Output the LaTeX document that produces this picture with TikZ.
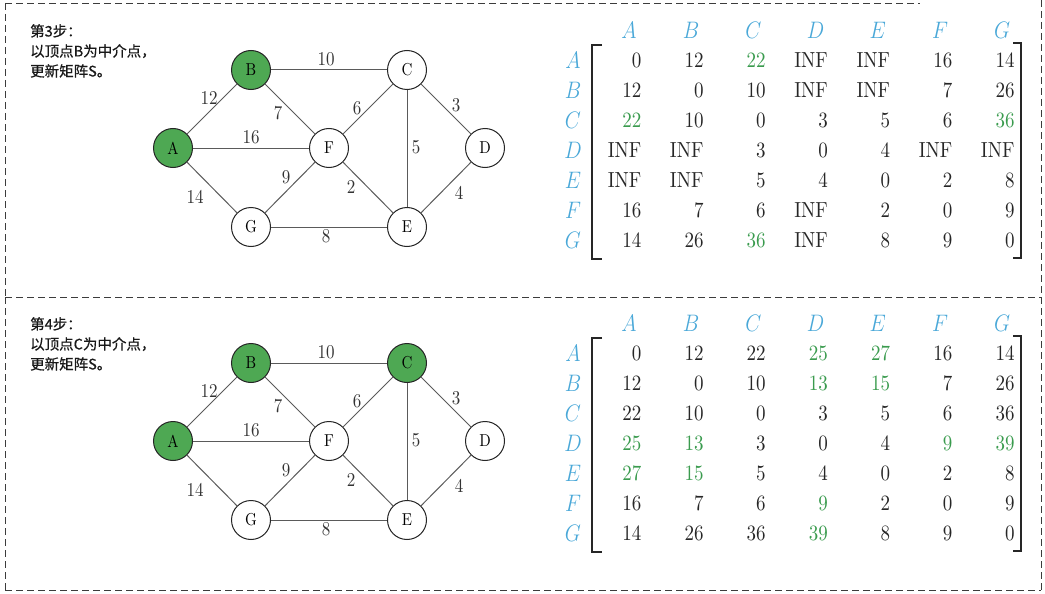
\documentclass[tikz,border=0pt]{standalone}
\usepackage{fontspec}
\usepackage{graphicx}
\newfontfamily\cjk{Noto Sans CJK SC}[FakeBold=0.6]
% the 10pt design of Latin Modern, used at large sizes for sturdier strokes
\newfontfamily\numfont{lmroman10-regular}[Extension=.otf]
\definecolor{nodegreen}{HTML}{4EA853}
\definecolor{numgreen}{HTML}{3A9B4E}
\definecolor{hdrblue}{HTML}{4AA8D8}
\definecolor{edgegray}{HTML}{5A5A5A}
\definecolor{framegray}{HTML}{3C3C3C}
% slightly tall glyphs
\newcommand\tl[1]{\scalebox{1}[1.15]{#1}}
\newcommand\gn[1]{\textcolor{numgreen}{#1}}

\tikzset{
  vtx/.style={circle, draw=black!85, line width=1pt, minimum size=39pt, inner sep=0pt,
    fill=white, font=\numfont\fontsize{15}{15}\selectfont},
  done/.style={fill=nodegreen},
  edge/.style={draw=edgegray, line width=1pt},
  wlab/.style={inner sep=0pt, font=\numfont\fontsize{17}{17}\selectfont, text=black!80},
  frame/.style={draw=framegray, line width=0.9pt, dash pattern=on 7pt off 4pt},
  entry/.style={anchor=east, inner sep=0pt, font=\numfont\fontsize{19}{19}\selectfont, text=black!85},
  hdr/.style={inner sep=0pt, text=hdrblue, font=\fontsize{20}{20}\selectfont},
  bracket/.style={draw=black!85, line width=1.4pt},
  caption/.style={anchor=north west, align=left, inner sep=0pt,
    font=\cjk\fontsize{14.5}{20}\selectfont, text=black!90}
}

% graph of one step; #1 = style of vertex C
\newcommand\drawgraph[1]{%
  \node[vtx,done] (A) at (173,148) {\tl{A}};
  \node[vtx,done] (B) at (251,70)  {\tl{B}};
  \node[vtx,#1]   (C) at (407,70)  {\tl{C}};
  \node[vtx]      (D) at (485,148) {\tl{D}};
  \node[vtx]      (E) at (407,227) {\tl{E}};
  \node[vtx]      (F) at (329,148) {\tl{F}};
  \node[vtx]      (G) at (251,227) {\tl{G}};
  \draw[edge] (A) -- (B);
  \draw[edge] (A) -- (F);
  \draw[edge] (A) -- (G);
  \draw[edge] (B) -- (C);
  \draw[edge] (B) -- (F);
  \draw[edge] (C) -- (F);
  \draw[edge] (C) -- (D);
  \draw[edge] (C) -- (E);
  \draw[edge] (F) -- (G);
  \draw[edge] (F) -- (E);
  \draw[edge] (G) -- (E);
  \draw[edge] (D) -- (E);
  \node[wlab] (wBC) at (326,59)  {\tl{10}};
  \node[wlab] (wAB) at (209,98)  {\tl{12}};
  \node[wlab] (wBF) at (278,113) {\tl{7}};
  \node[wlab] (wAF) at (251,137) {\tl{16}};
  \node[wlab] (wCF) at (357,108) {\tl{6}};
  \node[wlab] (wCD) at (456,105) {\tl{3}};
  \node[wlab] (wCE) at (416,147) {\tl{5}};
  \node[wlab] (wFG) at (286,177) {\tl{9}};
  \node[wlab] (wFE) at (351,187) {\tl{2}};
  \node[wlab] (wAG) at (195,197) {\tl{14}};
  \node[wlab] (wDE) at (459,193) {\tl{4}};
  \node[wlab] (wGE) at (326,236) {\tl{8}};
}

% labels and brackets of the distance matrix
\newcommand\drawframe{%
  \foreach \L [count=\c] in {A,B,C,D,E,F,G} {
    \node[hdr] (h-\L) at ({629+62.2*(\c-1)},30) {\tl{$\L$}};
    \node[hdr] (r-\L) at (573,{60+30*(\c-1)}) {\tl{$\L$}};
  }
  \draw[bracket] (602,45) -- (592,45) -- (592,259) -- (602,259);
  \draw[bracket] (1013,43) -- (1021,43) -- (1021,258) -- (1013,258);
}

\begin{document}
\begin{tikzpicture}[x=1pt,y=-1pt]
  \useasboundingbox (0,0) rectangle (1045,594);

  % dashed panel borders
  \draw[frame] (5,3) -- (920,3);
  \draw[frame] (5,3) -- (5,297);
  \draw[frame] (5,297) -- (1041,297);
  \draw[frame] (5,297) -- (5,590);
  \draw[frame] (5,590) -- (1041,590);
  \draw[frame] (1041,0) -- (1041,590);

  % step 3
  \begin{scope}[name prefix=s3-]
    \node[caption] (cap) at (30,24) {第3步：\\以顶点B为中介点，\\更新矩阵S。};
    \drawgraph{}
    \drawframe
    \foreach \row [count=\r] in {
      {0,12,\gn{22},INF,INF,16,14},
      {12,0,10,INF,INF,7,26},
      {\gn{22},10,0,3,5,6,\gn{36}},
      {INF,INF,3,0,4,INF,INF},
      {INF,INF,5,4,0,2,8},
      {16,7,6,INF,2,0,9},
      {14,26,\gn{36},INF,8,9,0}} {
      \foreach \v [count=\c] in \row {
        \node[entry] (m-\r-\c) at ({641.5+62.2*(\c-1)},{60+30*(\r-1)}) {\tl{\v}};
      }
    }
  \end{scope}

  % step 4
  \begin{scope}[shift={(0,293)}, name prefix=s4-]
    \node[caption] (cap) at (30,24) {第4步：\\以顶点C为中介点，\\更新矩阵S。};
    \drawgraph{done}
    \drawframe
    \foreach \row [count=\r] in {
      {0,12,22,\gn{25},\gn{27},16,14},
      {12,0,10,\gn{13},\gn{15},7,26},
      {22,10,0,3,5,6,36},
      {\gn{25},\gn{13},3,0,4,\gn{9},\gn{39}},
      {\gn{27},\gn{15},5,4,0,2,8},
      {16,7,6,\gn{9},2,0,9},
      {14,26,36,\gn{39},8,9,0}} {
      \foreach \v [count=\c] in \row {
        \node[entry] (m-\r-\c) at ({641.5+62.2*(\c-1)},{60+30*(\r-1)}) {\tl{\v}};
      }
    }
  \end{scope}
\end{tikzpicture}
\end{document}
